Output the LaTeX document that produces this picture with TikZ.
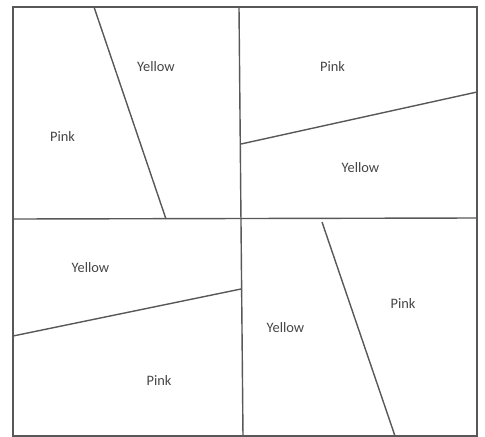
\documentclass[tikz,border=0pt]{standalone}
\usepackage{fontspec}
\setmainfont{Carlito}
\usepackage{xcolor}
\definecolor{edgegray}{HTML}{585858}
\definecolor{labelgray}{HTML}{454545}

\begin{document}
\begin{tikzpicture}[x=0.02cm,y=-0.02cm,
    border/.style={edgegray,line width=0.8pt},
    cut/.style={edgegray,line width=0.8pt},
    colorlabel/.style={labelgray,font=\fontsize{8.2}{10}\selectfont,inner sep=0pt}]
                \useasboundingbox (0,0) rectangle (485,437);

                % Outer frame
                \draw[border] (13,7) rectangle (477,436);

                % Quarter lines
                \coordinate (midtop) at (239,7);
                \coordinate (midbottom) at (243,436);
                \coordinate (midleft) at (13,219);
                \coordinate (midright) at (477,218);
                \draw[cut] (midtop) -- (midbottom);
                \draw[cut] (midleft) -- (midright);

                % Slanted cuts, one per quarter
                \coordinate (tlA) at (94,7);
                \coordinate (tlB) at (166,219);
                \coordinate (trA) at (241,144);
                \coordinate (trB) at (477,92);
                \coordinate (blA) at (13,336);
                \coordinate (blB) at (241,289);
                \coordinate (brA) at (322,222);
                \coordinate (brB) at (395,436);
                \draw[cut] (tlA) -- (tlB);
                \draw[cut] (trA) -- (trB);
                \draw[cut] (blA) -- (blB);
                \draw[cut] (brA) -- (brB);

                % Colour labels
                \node[colorlabel] (tlyellow) at (156,67) {Yellow};
                \node[colorlabel] (tlpink) at (62.5,136) {Pink};
                \node[colorlabel] (trpink) at (332.5,66) {Pink};
                \node[colorlabel] (tryellow) at (360.5,168) {Yellow};
                \node[colorlabel] (blyellow) at (90.5,268) {Yellow};
                \node[colorlabel] (blpink) at (159,380) {Pink};
                \node[colorlabel] (bryellow) at (285.5,328) {Yellow};
                \node[colorlabel] (brpink) at (403,303) {Pink};
            \end{tikzpicture}
\end{document}
